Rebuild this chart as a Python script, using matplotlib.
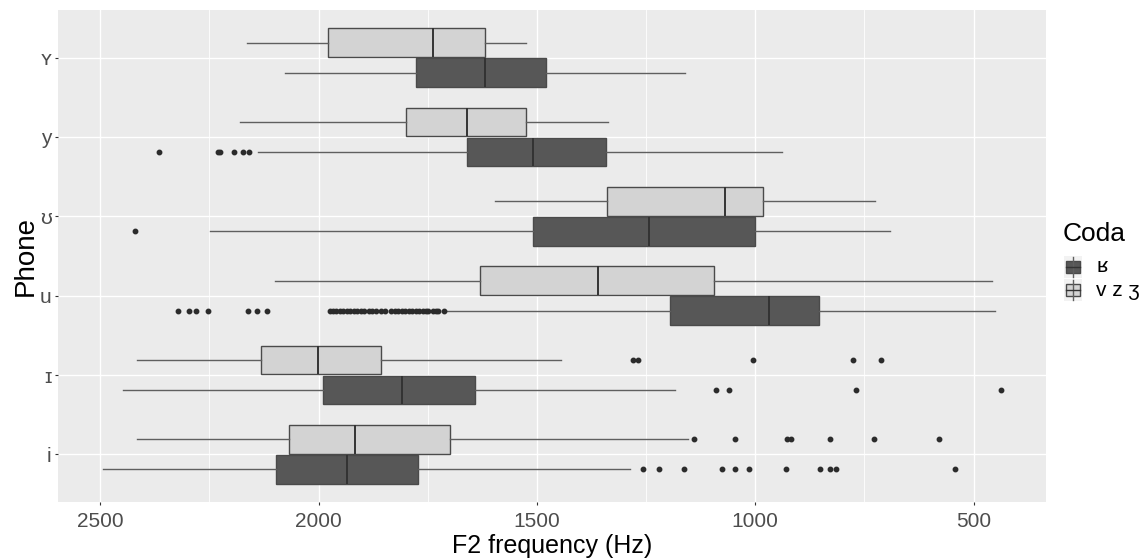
import numpy as np
import matplotlib
matplotlib.use('Agg')
import matplotlib.pyplot as plt
from matplotlib.patches import Rectangle

plt.rcParams['font.family'] = ['Liberation Sans', 'DejaVu Sans']

phones = ['i', 'ɪ', 'u', 'ʊ', 'y', 'ʏ']
coda_labels = ['ʁ', 'v z ʒ']

# F2 (Hz): whisker low, q1, median, q3, whisker high  -- coda ʁ
r_low = [1286, 1183, 451, 691, 938, 1160]
r_q1 = [1772, 1643, 853, 1001, 1341, 1479]
r_med = [1934, 1808, 969, 1243, 1508, 1619]
r_q3 = [2098, 1991, 1196, 1508, 1661, 1777]
r_high = [2493, 2449, 1708, 2248, 2140, 2076]
r_out = [
    [1256, 1220, 1164, 1076, 1047, 1015, 930, 851, 829, 815, 542],
    [1091, 1061, 769, 436],
    [2321, 2298, 2281, 2254, 2162, 2142, 2119,
     1975, 1968, 1960, 1952, 1944, 1936, 1928, 1920, 1912, 1904,
     1895, 1884, 1877, 1868, 1858, 1848, 1834, 1826, 1818, 1810,
     1802, 1794, 1786, 1778, 1770, 1762, 1754, 1749, 1738, 1731,
     1726, 1714],
    [2420],
    [2365, 2231, 2226, 2193, 2174, 2159],
    [],
]

# coda v z ʒ
v_low = [1153, 1445, 458, 725, 1337, 1524]
v_q1 = [1699, 1857, 1095, 983, 1525, 1620]
v_med = [1917, 2002, 1360, 1069, 1661, 1737]
v_q3 = [2067, 2132, 1630, 1340, 1801, 1979]
v_high = [2417, 2415, 2100, 1595, 2181, 2165]
v_out = [
    [1140, 1047, 928, 917, 829, 727, 580],
    [1279, 1269, 1006, 775, 712],
    [], [], [], [],
]

dark = '#575757'
light = '#D3D3D3'
edge = '#4a4a4a'


def make_stats(low, q1, med, q3, high, out):
    st = []
    for k in range(len(low)):
        st.append({'whislo': low[k], 'q1': q1[k], 'med': med[k], 'q3': q3[k],
                   'whishi': high[k], 'fliers': np.array(out[k])})
    return st


fig = plt.figure(figsize=(11.48, 5.59), dpi=100)
ax = fig.add_axes([58 / 1148, 1 - 502 / 559, (1046 - 58) / 1148, (502 - 10) / 559])
ax.set_facecolor('#EBEBEB')

pos = np.arange(1, len(phones) + 1)
for stats, fill, off in [(make_stats(r_low, r_q1, r_med, r_q3, r_high, r_out), dark, -0.19),
                         (make_stats(v_low, v_q1, v_med, v_q3, v_high, v_out), light, 0.19)]:
    ax.bxp(stats, positions=pos + off, widths=0.36, orientation='horizontal',
           showcaps=False, patch_artist=True,
           boxprops=dict(facecolor=fill, edgecolor=edge, linewidth=1.0),
           medianprops=dict(color='#333333', linewidth=1.4),
           whiskerprops=dict(color='#5f5f5f', linewidth=1.0),
           flierprops=dict(marker='o', markersize=3.2, markerfacecolor='#2b2b2b',
                           markeredgecolor='#2b2b2b'),
           zorder=3)

ax.set_xlim(2597, 334)
ax.set_ylim(0.4, 6.6)
ax.set_xticks([2500, 2000, 1500, 1000, 500])
ax.set_xticks([2250, 1750, 1250, 750], minor=True)
ax.set_yticks(pos)
ax.set_yticklabels(phones)
ax.grid(True, which='major', color='white', linewidth=1.0, zorder=0)
ax.grid(True, which='minor', axis='x', color='white', linewidth=0.6, zorder=0)
ax.set_axisbelow(True)
for s in ax.spines.values():
    s.set_visible(False)
ax.tick_params(axis='both', which='major', length=2.5, width=0.8, color='#333333',
               labelcolor='#4D4D4D', labelsize=15)
ax.tick_params(axis='x', which='major', pad=5)
ax.tick_params(axis='y', which='major', pad=2)
ax.tick_params(which='minor', length=0)
ax.set_xlabel('F2 frequency (Hz)', fontsize=18, labelpad=2)
ax.set_ylabel('Phone', fontsize=20, labelpad=1)

# legend drawn in pixel coordinates
lg = fig.add_axes([0, 0, 1, 1])
lg.set_xlim(0, 1148)
lg.set_ylim(559, 0)
lg.axis('off')
lg.text(1063, 234, 'Coda', fontsize=19, va='center', ha='left')
for k, (lab, fill) in enumerate(zip(coda_labels, [dark, light])):
    cy = 267 + 23 * k
    lg.add_patch(Rectangle((1064, cy - 11), 18, 22, facecolor='#F2F2F2', edgecolor='none'))
    lg.plot([1073, 1073], [cy - 10, cy + 10], color='#5f5f5f', lw=1.0)
    lg.add_patch(Rectangle((1066, cy - 6), 14, 12, facecolor=fill, edgecolor=edge, lw=1.0))
    lg.plot([1066, 1080], [cy, cy], color='#333333', lw=1.0)
    lg.text(1096, cy, lab, fontsize=15, va='center', ha='left')

fig.savefig('out.png', dpi=100)
